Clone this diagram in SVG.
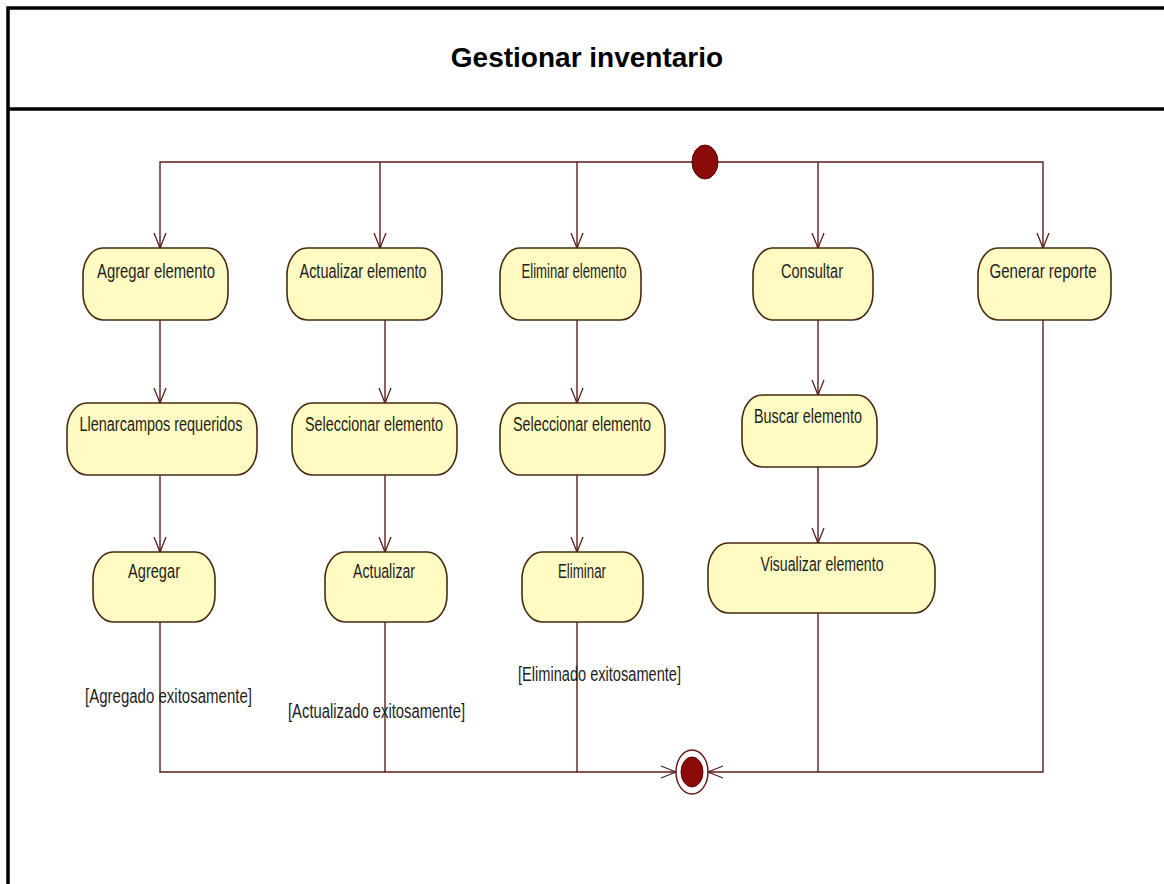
<svg xmlns="http://www.w3.org/2000/svg" width="1164" height="884" viewBox="0 0 1164 884">
<defs>
<style>
.frame{stroke:#000;stroke-width:3.5;fill:none}
.title{font-family:"Liberation Sans",Arial,sans-serif;font-weight:bold;font-size:28px;fill:#000;text-anchor:middle}
.node{fill:#fffbc2;stroke:#4a2a12;stroke-width:1.6}
.lbl{font-family:"Liberation Sans",Arial,sans-serif;font-size:20px;fill:#1e1e1e;text-anchor:middle}
.guard{font-family:"Liberation Sans",Arial,sans-serif;font-size:20px;fill:#1e1e1e}
.conn{fill:none;stroke:#5a1e1e;stroke-width:1.4}
</style>
<marker id="arr" markerUnits="userSpaceOnUse" viewBox="-16 -7 17 14" refX="0" refY="0" markerWidth="17" markerHeight="14" orient="auto">
<path d="M-15,-6 L0,0 L-15,6" fill="none" stroke="#5a1e1e" stroke-width="1.3"/>
<circle cx="-1" cy="0" r="1.3" fill="#5a1e1e"/>
</marker>
</defs>
<rect x="0" y="0" width="1164" height="884" fill="#fff"/>
<g id="frame">
<path class="frame" d="M8,884 V8 H1164"/>
<line class="frame" x1="8" y1="109" x2="1164" y2="109"/>
<text class="title" x="587" y="67">Gestionar inventario</text>
</g>
<g id="connectors">
<path class="conn" d="M692,162 H160 V248" marker-end="url(#arr)"/>
<path class="conn" d="M380,162 V248" marker-end="url(#arr)"/>
<path class="conn" d="M577,162 V248" marker-end="url(#arr)"/>
<path class="conn" d="M718,162 H1043 V248" marker-end="url(#arr)"/>
<path class="conn" d="M818,162 V248" marker-end="url(#arr)"/>
<path class="conn" d="M160,320 V403" marker-end="url(#arr)"/>
<path class="conn" d="M160,475 V552" marker-end="url(#arr)"/>
<path class="conn" d="M160,622 V772 H676" marker-end="url(#arr)"/>
<path class="conn" d="M385,320 V403" marker-end="url(#arr)"/>
<path class="conn" d="M385,475 V552" marker-end="url(#arr)"/>
<path class="conn" d="M385,622 V772"/>
<path class="conn" d="M577,320 V403" marker-end="url(#arr)"/>
<path class="conn" d="M577,475 V552" marker-end="url(#arr)"/>
<path class="conn" d="M577,622 V772"/>
<path class="conn" d="M818,320 V395" marker-end="url(#arr)"/>
<path class="conn" d="M818,467 V543" marker-end="url(#arr)"/>
<path class="conn" d="M818,613 V772"/>
<path class="conn" d="M1043,320 V772 H708" marker-end="url(#arr)"/>
<text class="guard" x="85" y="703" textLength="167" lengthAdjust="spacingAndGlyphs">[Agregado exitosamente]</text>
<text class="guard" x="288" y="718" textLength="177" lengthAdjust="spacingAndGlyphs">[Actualizado exitosamente]</text>
<text class="guard" x="518" y="681" textLength="163" lengthAdjust="spacingAndGlyphs">[Eliminado exitosamente]</text>
</g>
<g id="start">
<ellipse cx="705" cy="162" rx="13" ry="17" fill="#8b0a0a" stroke="#5a0505" stroke-width="1"/>
</g>
<g id="end">
<ellipse cx="692" cy="772" rx="16" ry="22" fill="#fff" stroke="#6a1010" stroke-width="1.4"/>
<ellipse cx="692" cy="772" rx="11" ry="15" fill="#8b0a0a" stroke="#5a0505" stroke-width="1"/>
</g>
<g id="n-agregar-elemento">
<rect class="node" x="83" y="248" width="145" height="72" rx="20" ry="27"/>
<text class="lbl" x="156" y="278" textLength="118" lengthAdjust="spacingAndGlyphs">Agregar elemento</text>
</g>
<g id="n-actualizar-elemento">
<rect class="node" x="287" y="248" width="155" height="72" rx="20" ry="27"/>
<text class="lbl" x="363" y="278" textLength="127" lengthAdjust="spacingAndGlyphs">Actualizar elemento</text>
</g>
<g id="n-eliminar-elemento">
<rect class="node" x="500" y="248" width="141" height="72" rx="20" ry="27"/>
<text class="lbl" x="574" y="278" textLength="105" lengthAdjust="spacingAndGlyphs">Eliminar elemento</text>
</g>
<g id="n-consultar">
<rect class="node" x="753" y="248" width="120" height="72" rx="20" ry="27"/>
<text class="lbl" x="812" y="278" textLength="62" lengthAdjust="spacingAndGlyphs">Consultar</text>
</g>
<g id="n-generar-reporte">
<rect class="node" x="978" y="248" width="133" height="72" rx="20" ry="27"/>
<text class="lbl" x="1043" y="278" textLength="107" lengthAdjust="spacingAndGlyphs">Generar reporte</text>
</g>
<g id="n-llenar-campos">
<rect class="node" x="67" y="403" width="190" height="72" rx="20" ry="27"/>
<text class="lbl" x="161" y="431" textLength="163" lengthAdjust="spacingAndGlyphs">Llenarcampos requeridos</text>
</g>
<g id="n-seleccionar-1">
<rect class="node" x="292" y="403" width="165" height="72" rx="20" ry="27"/>
<text class="lbl" x="374" y="431" textLength="138" lengthAdjust="spacingAndGlyphs">Seleccionar elemento</text>
</g>
<g id="n-seleccionar-2">
<rect class="node" x="500" y="403" width="165" height="72" rx="20" ry="27"/>
<text class="lbl" x="582" y="431" textLength="138" lengthAdjust="spacingAndGlyphs">Seleccionar elemento</text>
</g>
<g id="n-buscar">
<rect class="node" x="742" y="395" width="135" height="72" rx="20" ry="27"/>
<text class="lbl" x="808" y="423" textLength="108" lengthAdjust="spacingAndGlyphs">Buscar elemento</text>
</g>
<g id="n-agregar">
<rect class="node" x="93" y="552" width="122" height="70" rx="20" ry="27"/>
<text class="lbl" x="154" y="578" textLength="52" lengthAdjust="spacingAndGlyphs">Agregar</text>
</g>
<g id="n-actualizar">
<rect class="node" x="325" y="552" width="122" height="70" rx="20" ry="27"/>
<text class="lbl" x="384" y="578" textLength="62" lengthAdjust="spacingAndGlyphs">Actualizar</text>
</g>
<g id="n-eliminar">
<rect class="node" x="522" y="552" width="121" height="70" rx="20" ry="27"/>
<text class="lbl" x="582" y="578" textLength="48" lengthAdjust="spacingAndGlyphs">Eliminar</text>
</g>
<g id="n-visualizar">
<rect class="node" x="708" y="543" width="227" height="70" rx="20" ry="27"/>
<text class="lbl" x="822" y="571" textLength="123" lengthAdjust="spacingAndGlyphs">Visualizar elemento</text>
</g>
</svg>
